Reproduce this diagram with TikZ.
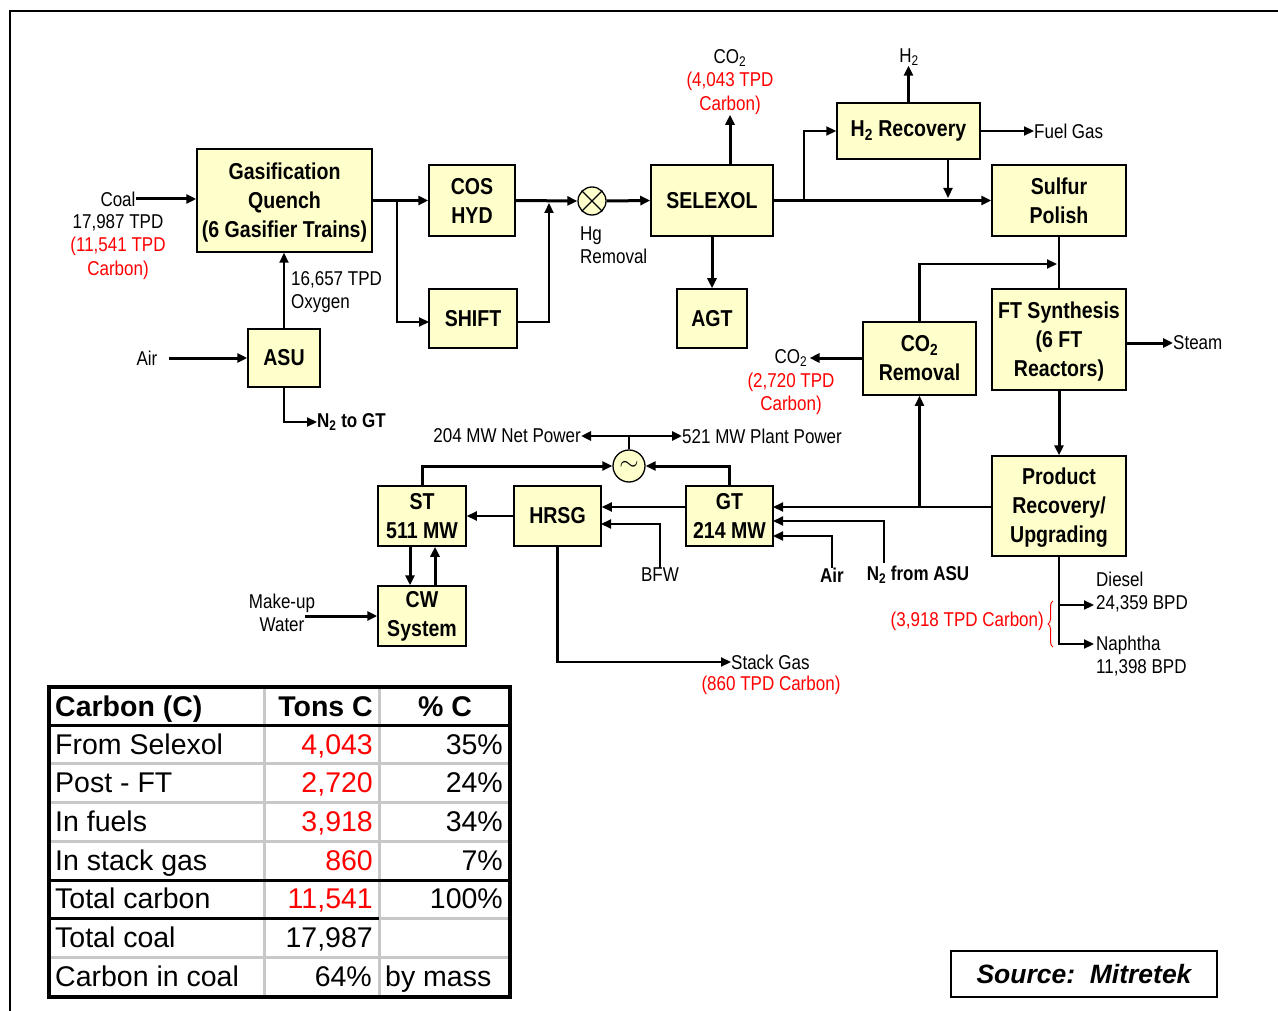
\documentclass[tikz,border=0pt]{standalone}
\usepackage{fontspec}
\setmainfont{Liberation Sans}
\newfontfamily\nf[FakeStretch=0.85]{Liberation Sans}
\usetikzlibrary{arrows.meta,decorations.pathreplacing,calc}
\definecolor{boxy}{HTML}{FFFFCC}
\definecolor{cred}{HTML}{FF0000}
\definecolor{tgray}{HTML}{C8C8C8}
\begin{document}
\begin{tikzpicture}[x=1pt,y=-1pt,
  bx/.style={draw, fill=boxy, line width=1.5pt, inner sep=0pt, align=center,
     font=\nf\bfseries\fontsize{23}{29}\selectfont},
  lb/.style={inner sep=0pt, align=center, font=\nf\fontsize{20}{23.5}\selectfont},
  lbb/.style={lb, font=\nf\bfseries\fontsize{20}{23.5}\selectfont},
  rl/.style={lb, text=cred},
  ar/.style={-{Triangle[length=10pt,width=9pt]}, line width=2.2pt},
  arb/.style={ar, line width=3pt},
  ln/.style={line width=2.2pt},
  tb/.style={inner sep=0pt, anchor=base, font=\fontsize{28.5}{32}\selectfont},
  tbh/.style={tb, font=\bfseries\fontsize{28.5}{32}\selectfont},
]
\useasboundingbox (0,0) rectangle (1278,1011);
% frame
\draw[line width=2.5pt] (10,1011) -- (10,11) -- (1278,11);

% ---------- boxes ----------
\node[bx, minimum width=175pt, minimum height=103pt] (gas) at (284.5,200.5) {\rule{0pt}{20pt}Gasification\\Quench\\(6 Gasifier Trains)};
\node[bx, minimum width=86pt, minimum height=71pt] (cos) at (472,200.5) {COS\\HYD};
\node[bx, minimum width=88pt, minimum height=59pt] (shift) at (473,318.5) {SHIFT};
\node[bx, minimum width=72pt, minimum height=58pt] (asu) at (284,358) {ASU};
\node[bx, minimum width=122pt, minimum height=71pt] (selexol) at (712,200.5) {SELEXOL};
\node[bx, minimum width=70pt, minimum height=59pt] (agt) at (712,318.5) {AGT};
\node[bx, minimum width=143pt, minimum height=56pt] (h2r) at (908.5,131) {H\textsubscript{2} Recovery};
\node[bx, minimum width=134pt, minimum height=71pt] (sulf) at (1059,200.5) {Sulfur\\Polish};
\node[bx, minimum width=134pt, minimum height=101pt] (ft) at (1059,339.5) {\rule{0pt}{20pt}FT Synthesis\\(6 FT\\Reactors)};
\node[bx, minimum width=113pt, minimum height=73pt] (co2r) at (919.5,358.5) {CO\textsubscript{2}\\Removal};
\node[bx, minimum width=134pt, minimum height=100pt] (prod) at (1059,506) {\rule{0pt}{20pt}Product\\Recovery/\\Upgrading};
\node[bx, minimum width=88pt, minimum height=60pt] (st) at (422,516) {ST\\511 MW};
\node[bx, minimum width=87pt, minimum height=60pt] (hrsg) at (557.5,516) {HRSG};
\node[bx, minimum width=87pt, minimum height=60pt] (gt) at (729.5,516) {GT\\214 MW};
\node[bx, minimum width=88pt, minimum height=60pt] (cw) at (422,616) {CW\\System};

% mercury removal and generator
\node[circle, draw, fill=boxy, line width=1.3pt, minimum size=28pt, inner sep=0pt] (hg) at (592,201) {};
\draw[line width=1.3pt] (hg.45) -- (hg.225) (hg.135) -- (hg.315);
\node[circle, draw, fill=boxy, line width=1.3pt, minimum size=32pt, inner sep=0pt,
  font=\fontsize{24}{24}\selectfont] (gen) at (629,466) {$\sim$};

% ---------- labels ----------
\node[lb] (coal) at (118,199) {Coal};
\node[lb] (coali) at (118,247) {17,987 TPD\\\textcolor{cred}{(11,541 TPD}\\\textcolor{cred}{Carbon)}};
\node[lb, align=left, anchor=west] (oxy) at (291,292) {16,657 TPD\\Oxygen};
\node[lb] (air) at (147,358) {Air};
\node[lbb, anchor=west] (n2gt) at (317,422) {N\textsubscript{2} to GT};
\node[lb, align=left, anchor=west] (hgl) at (580,245) {Hg\\Removal};
\node[lb] (co2a) at (730,82) {CO\textsubscript{2}\\\textcolor{cred}{(4,043 TPD}\\\textcolor{cred}{Carbon)}};
\node[lb] (h2) at (909,57) {H\textsubscript{2}};
\node[lb, anchor=west] (fg) at (1034,131) {Fuel Gas};
\node[lb, anchor=west] (steam) at (1173,343) {Steam};
\node[lb] (co2b) at (791,358) {CO\textsubscript{2}};
\node[rl] (co2bc) at (791,394) {(2,720 TPD\\Carbon)};
\node[lb, anchor=east] (np) at (581,436) {204 MW Net Power};
\node[lb, anchor=west] (pp) at (682,436) {521 MW Plant Power};
\node[lb] (bfw) at (660,575) {BFW};
\node[lbb] (air2) at (832,575) {Air};
\node[lbb] (n2a) at (918,575) {N\textsubscript{2} from ASU};
\node[lb] (mw) at (282,613) {Make-up\\Water};
\node[lb, anchor=west] (stack) at (731,662) {Stack Gas};
\node[rl] (stackc) at (771,685) {(860 TPD Carbon)};
\node[lb, align=left, anchor=west] (diesel) at (1096,592) {Diesel\\24,359 BPD};
\node[lb, align=left, anchor=west] (naph) at (1096,656) {Naphtha\\11,398 BPD};
\node[rl, anchor=east] (fuelc) at (1044,621) {(3,918 TPD Carbon)};

% ---------- coordinates ----------
\coordinate (b1) at (397,200.5);
\coordinate (j1) at (549,203);
\coordinate (b2) at (804,200.5);
\coordinate (j2) at (948,198);
\coordinate (j3) at (1057,264);
\coordinate (b3) at (919.5,507);
\coordinate (pw) at (629,436);
\coordinate (gtin1) at (773,507);
\coordinate (gtin2) at (773,521);
\coordinate (gtin3) at (773,536);
\coordinate (gtout) at (686,507);
\coordinate (hrin) at (601,524);
\coordinate (n2p) at (884,563);
\coordinate (mwp) at (305,616);
\coordinate (dp) at (1094,605);
\coordinate (nq) at (1094,644);
\coordinate (shin) at (429,322);

% ---------- connectors ----------
\draw[arb] (coal.east) -- (coal.east -| gas.west);
\draw[ar] (asu.north) -- (asu.north |- gas.south);
\draw[arb] ([xshift=11pt]air.east) -- (air.east -| asu.west);
\draw[ar] (asu.south) |- (n2gt.west);
\draw[arb] (gas.east) -- (cos.west);
\draw[ar] (b1) |- (shin);
\draw[arb] (cos.east) -- (hg.west);
\draw[ar] (shift.east |- shin) -| (j1);
\draw[arb] (hg.east) -- (selexol.west);
\draw[arb] (co2a.south |- selexol.north) -- (co2a.south);
\draw[arb] (selexol.south) -- (agt.north);
\draw[arb] (selexol.east) -- (sulf.west);
\draw[ar] (b2) |- (h2r.west);
\draw[ar] (j2 |- h2r.south) -- (j2);
\draw[arb] (h2r.north) -- (h2r.north |- h2.south);
\draw[ar] (h2r.east) -- (fg.west);
\draw[ln] (sulf.south) -- (ft.north);
\draw[ar] (co2r.north) |- (j3);
\draw[arb] (ft.east |- steam.west) -- (steam.west);
\draw[arb] (ft.south) -- (prod.north);
\draw[ar] (prod.west |- gtin1) -- (gtin1);
\draw[ar] (b3) -- (co2r.south);
\draw[arb] (co2r.west |- co2b.east) -- ([xshift=2pt]co2b.east);
\draw[arb] (st.north) |- (gen.west);
\draw[arb] (gt.north) |- (gen.east);
\draw[ln] (gen.north) -- (pw);
\draw[line width=2.6pt, {Triangle[length=10pt,width=9pt]}-{Triangle[length=10pt,width=9pt]}] (np.east) -- (pp.west);
\draw[ar] (gtout) -- (gtout -| hrsg.east);
\draw[ar] (hrsg.west) -- (st.east);
\draw[ar] (bfw.north) |- (hrin);
\draw[ar] (air2.north) |- (gtin3);
\draw[ar] (n2p) |- (gtin2);
\draw[arb] ([xshift=-12pt]st.south) -- ([xshift=-12pt]cw.north);
\draw[arb] ([xshift=13pt]cw.north) -- ([xshift=13pt]st.south);
\draw[arb] (mwp) -- (cw.west);
\draw[ar] (hrsg.south) |- (stack.west);
\draw[ar] (prod.south) |- (nq);
\draw[ar] (prod.south |- dp) -- (dp);
\draw[cred, line width=1pt, decorate, decoration={brace, amplitude=5pt}] (1053,647) -- (1053,601);

% ---------- table ----------
\draw[tgray, line width=3pt] (264,687) -- (264,997) (379,687) -- (379,997);
\draw[tgray, line width=3pt] (49,763) -- (510,763) (49,802) -- (510,802) (49,841) -- (510,841)
   (379,918) -- (510,918) (49,957) -- (510,957);
\draw[line width=3pt] (49,725) -- (510,725) (49,880) -- (510,880) (49,918) -- (379,918);
\draw[line width=4pt] (49,687) rectangle (510,997);

\node[tbh, anchor=base west] (h1) at (55,716) {Carbon (C)};
\node[tbh, anchor=base east] (h2t) at (373,716) {Tons C};
\node[tbh, anchor=base] (h3) at (445,716) {\% C};

\node[tb, anchor=base west] (r1a) at (55,754) {From Selexol};
\node[tb, anchor=base east, text=cred] (r1b) at (373,754) {4,043};
\node[tb, anchor=base east] (r1c) at (503,754) {35\%};

\node[tb, anchor=base west] (r2a) at (55,792) {Post - FT};
\node[tb, anchor=base east, text=cred] (r2b) at (373,792) {2,720};
\node[tb, anchor=base east] (r2c) at (503,792) {24\%};

\node[tb, anchor=base west] (r3a) at (55,831) {In fuels};
\node[tb, anchor=base east, text=cred] (r3b) at (373,831) {3,918};
\node[tb, anchor=base east] (r3c) at (503,831) {34\%};

\node[tb, anchor=base west] (r4a) at (55,870) {In stack gas};
\node[tb, anchor=base east, text=cred] (r4b) at (373,870) {860};
\node[tb, anchor=base east] (r4c) at (503,870) {7\%};

\node[tb, anchor=base west] (r5a) at (55,908) {Total carbon};
\node[tb, anchor=base east, text=cred] (r5b) at (373,908) {11,541};
\node[tb, anchor=base east] (r5c) at (503,908) {100\%};

\node[tb, anchor=base west] (r6a) at (55,947) {Total coal};
\node[tb, anchor=base east] (r6b) at (373,947) {17,987};

\node[tb, anchor=base west] (r7a) at (55,986) {Carbon in coal};
\node[tb, anchor=base east] (r7b) at (372,986) {64\%};
\node[tb, anchor=base west] (r7c) at (385,986) {by mass};

% ---------- source ----------
\node[draw, line width=1.6pt, minimum width=266pt, minimum height=46pt, inner sep=0pt,
  font=\bfseries\itshape\fontsize{26.5}{30}\selectfont] (src) at (1084,974) {Source:\ \ Mitretek};
\end{tikzpicture}
\end{document}
